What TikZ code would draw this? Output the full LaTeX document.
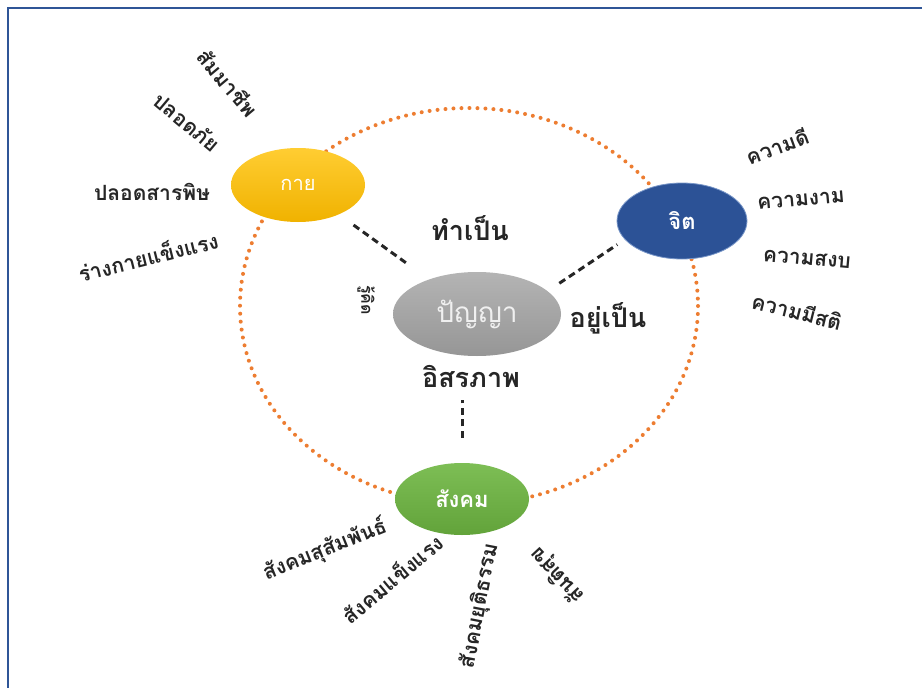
\documentclass[tikz,border=0pt]{standalone}
\usepackage{fontspec}
\newfontfamily\thai[Script=Thai]{Loma}
\usetikzlibrary{shapes.geometric}
\definecolor{framecol}{RGB}{47,85,151}
\definecolor{dotcol}{RGB}{237,125,49}
\definecolor{goldA}{RGB}{255,205,50}
\definecolor{goldB}{RGB}{240,178,0}
\definecolor{greyA}{RGB}{180,180,180}
\definecolor{greyB}{RGB}{150,150,150}
\definecolor{greenA}{RGB}{125,190,85}
\definecolor{greenB}{RGB}{98,163,58}
\definecolor{blueA}{RGB}{44,82,150}
\definecolor{blueEdge}{RGB}{120,150,200}
\begin{document}
\begin{tikzpicture}[x=1pt,y=-1pt,
  lbl/.style={font=\thai\bfseries\fontsize{21}{24}\selectfont, inner sep=0pt, text=black!85},
  mid/.style={font=\thai\bfseries\fontsize{27}{30}\selectfont, inner sep=0pt, text=black!85},
  blob/.style={ellipse, inner sep=0pt, text=white},
  link/.style={draw=black!85, line width=3pt, dash pattern=on 7pt off 4.5pt},
  ring/.style={draw=dotcol, line width=4pt, line cap=round, dash pattern=on 0pt off 8pt}]
\useasboundingbox (0,0) rectangle (922,688);
\fill[white] (0,0) rectangle (922,688);
\draw[framecol, line width=2pt] (7.7,692) -- (7.7,7.7) -- (926,7.7);
\draw[ring] (469,306) ellipse [x radius=229, y radius=198];
% main nodes
\node[blob, minimum width=134pt, minimum height=74pt, top color=goldA, bottom color=goldB,
      font=\thai\fontsize{20}{22}\selectfont] (kay) at (298,185) {กาย};
\node[blob, minimum width=130pt, minimum height=76pt, fill=blueA, draw=blueEdge, line width=0.8pt,
      font=\thai\bfseries\fontsize{22}{24}\selectfont] (citta) at (682,221) {จิต};
\node[blob, minimum width=168pt, minimum height=84pt, top color=greyA, bottom color=greyB,
      text=white!94!black, font=\thai\fontsize{28}{32}\selectfont] (panya) at (477,314) {ปัญญา};
\node[blob, minimum width=134pt, minimum height=72pt, top color=greenA, bottom color=greenB,
      font=\thai\bfseries\fontsize{22}{24}\selectfont] (sangkhom) at (462,499) {สังคม};
% centre labels
\node[mid] (thampen) at (470,228) {ทำเป็น};
\node[mid] (yupen) at (608,318) {อยู่เป็น};
\node[mid] (isara) at (471,376) {อิสรภาพ};
\node[lbl, font=\thai\bfseries\fontsize{16}{18}\selectfont, rotate=-90] (rukhit) at (366,300) {รู้คิด};
% dashed links
\draw[link, shorten <=18pt, shorten >=24pt] (kay) -- (panya);
\draw[link, shorten <=14pt, shorten >=9pt] (panya.18) -- (citta.198);
\draw[link, shorten <=25pt, shorten >=13pt] (sangkhom.north) -- (sangkhom.north |- isara.south);
% kay labels
\node[lbl, rotate=-50] (k1) at (228,83) {สัมมาชีพ};
\node[lbl, rotate=-40] (k2) at (187,122) {ปลอดภัย};
\node[lbl] (k3) at (152,192) {ปลอดสารพิษ};
\node[lbl, rotate=14] (k4) at (148,256) {ร่างกายแข็งแรง};
% citta labels
\node[lbl, rotate=20] (c1) at (777,146) {ความดี};
\node[lbl, rotate=5] (c2) at (801,200) {ความงาม};
\node[lbl, rotate=-5] (c3) at (807,259) {ความสงบ};
\node[lbl, rotate=-14] (c4) at (797,311) {ความมีสติ};
% sangkhom labels
\node[lbl, rotate=22] (s1) at (325,550) {สังคมสุสัมพันธ์};
\node[lbl, rotate=40] (s2) at (392,578) {สังคมแข็งแรง};
\node[lbl, rotate=79] (s3) at (480,606) {สังคมยุติธรรม};
\node[lbl, rotate=133] (s4) at (558,575) {สันติสุข};
\end{tikzpicture}
\end{document}
